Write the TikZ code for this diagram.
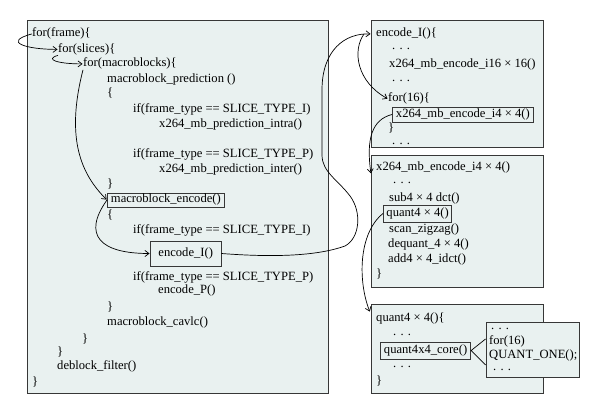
\documentclass[tikz,border=0pt]{standalone}
\usepackage{fontspec}
\setmainfont{Liberation Serif}
\usetikzlibrary{arrows.meta}
\definecolor{panelfill}{RGB}{233,241,240}
\definecolor{panelline}{RGB}{55,55,55}
\begin{document}
\begin{tikzpicture}[x=1pt,y=-1pt,
  panel/.style={draw=panelline, fill=panelfill, line width=0.9pt, inner sep=0pt},
  code/.style={anchor=base west, inner sep=0pt, font=\fontsize{12.6}{15}\selectfont},
  codebox/.style={draw=panelline, line width=0.9pt, inner ysep=0pt, inner xsep=3.5pt, text height=8.8pt, text depth=2.8pt, font=\fontsize{12.6}{15}\selectfont, anchor=west},
  arr/.style={-{Straight Barb[length=4pt,width=6pt]}, line width=0.7pt, shorten >=0.5pt},
  conn/.style={line width=0.7pt}]
\useasboundingbox (0,0) rectangle (600,414);

% panels
\node[panel, minimum width=301pt, minimum height=373pt] (mainpanel) at (177.5,206.5) {};
\node[panel, minimum width=172pt, minimum height=127pt] (p1) at (457,83.5) {};
\node[panel, minimum width=172pt, minimum height=132pt] (p2) at (457,221) {};
\node[panel, minimum width=172pt, minimum height=89pt] (p3) at (457,348.5) {};

% main code
\node[code] (frame) at (32,37) {for(frame)\{};
\node[code] (slices) at (58,52.5) {for(slices)\{};
\node[code] (macro) at (83,67) {for(macroblocks)\{};
\node[code] (pred) at (107,82.5) {macroblock\_prediction ()};
\node[code] (b1) at (107,97) {\{};
\node[code] (ifIa) at (133,112.5) {if(frame\_type == SLICE\_TYPE\_I)};
\node[code] (intra) at (159,127.5) {x264\_mb\_prediction\_intra()};
\node[code] (ifPa) at (133,158) {if(frame\_type == SLICE\_TYPE\_P)};
\node[code] (inter) at (159,173) {x264\_mb\_prediction\_inter()};
\node[code] (b2) at (107,188) {\}};
\node[codebox, minimum height=14pt] (mbenc) at (107,200) {macroblock\_encode()};
\node[code] (b3) at (107,219) {\{};
\node[code] (ifIb) at (133,234) {if(frame\_type == SLICE\_TYPE\_I)};
\node[codebox, minimum height=25pt, inner xsep=8pt] (encI) at (150,253.5) {encode\_I()};
\node[code] (ifPb) at (133,280) {if(frame\_type == SLICE\_TYPE\_P)};
\node[code] (encP) at (158,294) {encode\_P()};
\node[code] (b4) at (107,310) {\}};
\node[code] (cavlc) at (107,325) {macroblock\_cavlc()};
\node[code] (b5) at (82,342) {\}};
\node[code] (b6) at (57,355) {\}};
\node[code] (deblock) at (57,369) {deblock\_filter()};
\node[code] (b7) at (32,385) {\}};

% panel 1
\node[code] (enc1) at (376,37) {encode\_I()\{};
\node[code] (d11) at (392,50) {. . .};
\node[code] (i16) at (389,68) {x264\_mb\_encode\_i16 × 16()};
\node[code] (d12) at (392,82) {. . .};
\node[code] (for16) at (388,102) {for(16)\{};
\node[codebox, minimum height=15pt] (i4box) at (392,114.5) {x264\_mb\_encode\_i4 × 4()};
\node[code] (b11) at (388,132) {\}};
\node[code] (d13) at (392,145) {. . .};

% panel 2
\node[code] (i4title) at (376,171) {x264\_mb\_encode\_i4 × 4()};
\node[code] (d21) at (393,184) {. . .};
\node[code] (sub) at (389,202) {sub4 × 4 dct()};
\node[codebox, minimum height=17pt, inner xsep=3pt] (qbox) at (383,213.5) {quant4 × 4()};
\node[code] (zig) at (389,233) {scan\_zigzag()};
\node[code] (deq) at (388,248) {dequant\_4 × 4()};
\node[code] (idct) at (388,263) {add4 × 4\_idct()};
\node[code] (b21) at (376,277) {\}};

% panel 3
\node[code] (q3title) at (376,321) {quant4 × 4()\{};
\node[code] (d31) at (393,335) {. . .};
\node[codebox, minimum height=17pt] (core) at (380,350.5) {quant4x4\_core()};
\node[code] (d32) at (393,367) {. . .};
\node[code] (b31) at (376,384) {\}};

% small panel
\node[panel, minimum width=93pt, minimum height=55pt] (qone) at (532.5,349.5) {};
\node[code] (d41) at (491,330) {. . .};
\node[code] (for16b) at (489,344) {for(16)};
\node[code] (qonetxt) at (489,358) {QUANT\_ONE();};
\node[code] (d42) at (493,370) {. . .};

% connectors
\draw[arr] (frame.west) .. controls +(-30,8) and +(-32,0) .. (slices.west);
\draw[arr] (slices.south west) .. controls +(-14,4) and +(-25,0) .. (macro.west);
\draw[arr] (macro.south west) .. controls +(-18,70) and +(-25,-25) .. (mbenc.west);
\draw[arr] (mbenc.west) .. controls +(-25,35) and +(-50,0) .. (encI.west);
\draw[arr] (encI.east) .. controls (280,258) and (320,255) .. (345,246)
   .. controls (360,238) and (362,212) .. (350,196)
   .. controls (338,180) and (322,172) .. (322,155) -- (322,90)
   .. controls (322,50) and (345,33) .. ([xshift=-5pt]enc1.west);
\draw[arr] ([xshift=-12pt]enc1.west) .. controls +(-12,17) and +(-31,-17) .. (for16.west);
\draw[arr] (i4box.west) .. controls +(-20,5) and +(-5,-35) .. ([xshift=-5pt]i4title.south west);
\draw[arr] (qbox.west) .. controls +(-25,20) and +(-12,-30) .. ([xshift=-6pt]q3title.north west);
\draw[conn] ([yshift=10.5pt]qone.west) -- (core.east) -- ([yshift=-15.5pt]qone.west);
\end{tikzpicture}
\end{document}
